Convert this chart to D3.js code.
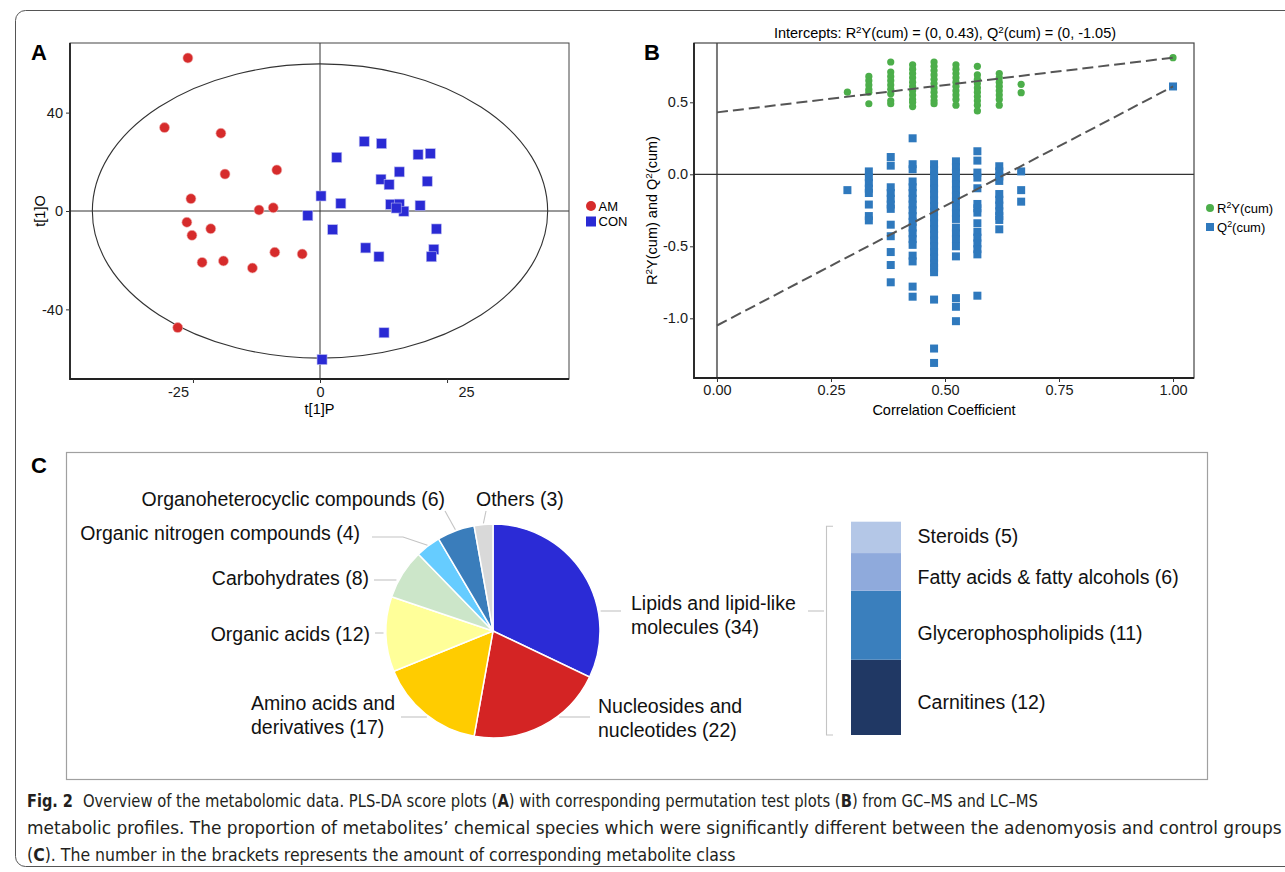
<!DOCTYPE html>
<html><head><meta charset="utf-8">
<script src="https://cdn.jsdelivr.net/npm/d3@7"></script>
<style>
body{margin:0;background:#fff;}
svg{display:block;font-family:"Liberation Sans",Arial,Helvetica,sans-serif;}
</style></head><body>
<svg id="fig" width="1285" height="872"></svg>
<script>
// ================= DATA =================
// Panel A: PLS-DA scores
const groupNames = ["AM", "CON"];
const amT1P  = [-26.0,-30.6,-19.5,-18.7,-8.5,-25.4,-12.0,-9.2,-26.2,-25.2,-21.5,-8.9,-3.5,-23.2,-19.0,-13.3,-28.0];
const amT1O  = [62.2,33.9,31.6,15.0,16.7,5.0,0.4,1.3,-4.6,-9.9,-7.2,-16.8,-17.5,-20.9,-20.3,-23.2,-47.4];
const conT1P = [8.7,12.1,3.3,19.3,21.7,15.6,12.0,13.6,21.1,0.2,4.1,13.9,15.6,16.5,19.7,-2.4,2.5,22.9,9.0,11.6,22.4,21.9,12.6,0.4,15.0];
const conT1O = [28.3,27.4,21.8,22.9,23.3,15.9,12.9,10.7,12.1,6.1,3.1,2.7,2.8,-0.1,2.2,-1.9,-7.6,-7.3,-15.0,-18.6,-15.6,-18.6,-49.5,-60.4,1.2];
const ellipseRadii = [44.8, 59.8];
const scoreTicksX = [-25, 0, 25];
const scoreTicksY = [-40, 0, 40];

// Panel B: permutation test
const permCorr = [0.286,0.333,0.381,0.429,0.476,0.524,0.571,0.619,0.667];
const permR2 = [
  [0.57],
  [0.68,0.65,0.62,0.59,0.57,0.49],
  [0.78,0.71,0.68,0.65,0.62,0.59,0.56,0.51,0.49],
  [0.76,0.73,0.70,0.67,0.64,0.61,0.58,0.55,0.52,0.50,0.47],
  [0.78,0.75,0.72,0.69,0.66,0.63,0.60,0.57,0.54,0.51,0.49],
  [0.76,0.73,0.70,0.67,0.64,0.61,0.58,0.55,0.52,0.48],
  [0.75,0.69,0.66,0.63,0.60,0.57,0.54,0.51,0.48,0.44],
  [0.70,0.67,0.64,0.61,0.58,0.55,0.52,0.48],
  [0.625,0.567]
];
const permQ2 = [
  [-0.11],
  [0.02,-0.02,-0.06,-0.10,-0.13,-0.21,-0.29,-0.32],
  [0.12,0.06,-0.09,-0.13,-0.17,-0.21,-0.24,-0.35,-0.43,-0.54,-0.63,-0.75],
  [0.25,0.07,0.035,-0.05,-0.09,-0.13,-0.17,-0.21,-0.25,-0.29,-0.33,-0.37,-0.41,-0.45,-0.49,-0.565,-0.605,-0.78,-0.85],
  [0.07,0.03,-0.01,-0.06,-0.10,-0.14,-0.18,-0.22,-0.26,-0.30,-0.34,-0.38,-0.42,-0.46,-0.50,-0.54,-0.58,-0.62,-0.65,-0.68,-0.87,-1.21,-1.31],
  [0.09,0.05,0.01,-0.03,-0.07,-0.11,-0.15,-0.19,-0.23,-0.27,-0.31,-0.37,-0.41,-0.45,-0.50,-0.57,-0.86,-0.92,-1.02],
  [0.16,0.095,0.012,-0.023,-0.097,-0.206,-0.236,-0.266,-0.34,-0.40,-0.44,-0.48,-0.52,-0.556,-0.843],
  [0.056,0.02,-0.015,-0.046,-0.137,-0.177,-0.217,-0.257,-0.29,-0.317,-0.382],
  [0.02,-0.11,-0.19]
];
const origCorr = 1.0, origR2 = 0.81, origQ2 = 0.61;
const interceptR2 = 0.43, interceptQ2 = -1.05;
const corrTicks = [0, 0.25, 0.5, 0.75, 1];
const permYTicks = [-1, -0.5, 0, 0.5];

// Panel C: metabolite classes
const classNames = ["Lipids and lipid-like molecules","Nucleosides and nucleotides","Amino acids and derivatives","Organic acids","Carbohydrates","Organic nitrogen compounds","Organoheterocyclic compounds","Others"];
const classCounts = [34,22,17,12,8,4,6,3];
const classColors = ["#2b2bd6","#d42424","#ffcc00","#ffff99","#cce6c9","#66ccff","#3a7dbb","#d9d9d9"];
const lipidNames = ["Steroids","Fatty acids & fatty alcohols","Glycerophospholipids","Carnitines"];
const lipidCounts = [5,6,11,12];
const lipidColors = ["#b4c7e7","#8faadc","#3a7fbd","#203864"];

// ================= DRAW =================
const svg = d3.select("#fig");
svg.append("rect").attr("width",1285).attr("height",872).attr("fill","#fff");
// outer frame
svg.append("rect").attr("x",15.5).attr("y",10.5).attr("width",1300).attr("height",856)
  .attr("rx",10).attr("fill","none").attr("stroke","#555").attr("stroke-width",1);

const hyph = f => d => f(d).replace("\u2212","-");
function styleAxis(g, fs){
  g.select(".domain").remove();
  g.selectAll("text").attr("font-size",fs).attr("font-family","'Liberation Sans',Arial,sans-serif").attr("fill","#1a1a1a");
  g.selectAll("line").attr("stroke","#333");
}
function supText(sel, parts){
  let shifted = false;
  parts.forEach(([t,s])=>{
    const ts = sel.append("tspan").text(t);
    if(s){ ts.attr("dy",-5).attr("font-size","0.68em"); shifted = true; }
    else if(shifted){ ts.attr("dy",5); shifted = false; }
  });
}

// ---------- Panel A ----------
const A = {l:70, r:569, t:43, b:379};
const xA = d3.scaleLinear().domain([-49.2,49]).range([A.l,A.r]);
const yA = d3.scaleLinear().domain([-68.3,68.3]).range([A.b,A.t]);
const gA = svg.append("g");
gA.append("ellipse").attr("cx",xA(0)).attr("cy",yA(0))
  .attr("rx",xA(ellipseRadii[0])-xA(0)).attr("ry",yA(0)-yA(ellipseRadii[1]))
  .attr("fill","none").attr("stroke","#333").attr("stroke-width",1.1);
gA.append("line").attr("x1",xA(0)).attr("x2",xA(0)).attr("y1",A.t).attr("y2",A.b).attr("stroke","#333");
gA.append("line").attr("x1",A.l).attr("x2",A.r).attr("y1",yA(0)).attr("y2",yA(0)).attr("stroke","#333");
gA.append("rect").attr("x",A.l).attr("y",A.t).attr("width",A.r-A.l).attr("height",A.b-A.t)
  .attr("fill","none").attr("stroke","#444").attr("stroke-width",1);
gA.append("path").attr("d",`M${A.l},${A.t}V${A.b}H${A.r}`).attr("fill","none").attr("stroke","#222").attr("stroke-width",1.8);
const axAx = gA.append("g").attr("transform",`translate(0,${A.b})`)
  .call(d3.axisBottom(xA).tickValues(scoreTicksX).tickSize(4).tickPadding(4).tickFormat(hyph(d3.format("d"))));
styleAxis(axAx,14.5);
axAx.selectAll(".tick text").attr("dx",d=> d<0 ? -15 : d>0 ? 19 : 0);
const axAy = gA.append("g").attr("transform",`translate(${A.l},0)`)
  .call(d3.axisLeft(yA).tickValues(scoreTicksY).tickSize(4).tickPadding(3).tickFormat(hyph(d3.format("d"))));
styleAxis(axAy,14.5);
gA.append("text").attr("x",(A.l+A.r)/2).attr("y",414).attr("text-anchor","middle").attr("font-size",14.5).text("t[1]P");
gA.append("text").attr("transform",`translate(45,${(A.t+A.b)/2}) rotate(-90)`).attr("text-anchor","middle").attr("font-size",14.5).text("t[1]O");
const amPts = amT1P.map((v,i)=>({x:v,y:amT1O[i]}));
const conPts = conT1P.map((v,i)=>({x:v,y:conT1O[i]}));
gA.selectAll(".am").data(amPts).join("circle").attr("cx",d=>xA(d.x)).attr("cy",d=>yA(d.y)).attr("r",5)
  .attr("fill","#d62b2b").attr("stroke","#f2b4b4").attr("stroke-width",0.6);
gA.selectAll(".con").data(conPts).join("rect").attr("x",d=>xA(d.x)-5).attr("y",d=>yA(d.y)-5)
  .attr("width",10).attr("height",10).attr("fill","#2a2ad4").attr("stroke","#b9b9f0").attr("stroke-width",0.6);
// legend A
const legA = gA.append("g").attr("font-size",13);
legA.append("circle").attr("cx",591).attr("cy",206).attr("r",5).attr("fill","#d62b2b");
legA.append("text").attr("x",598.5).attr("y",210.5).text(groupNames[0]);
legA.append("rect").attr("x",586).attr("y",216.5).attr("width",10).attr("height",10).attr("fill","#2a2ad4");
legA.append("text").attr("x",598.5).attr("y",226).text(groupNames[1]);
svg.append("text").attr("x",31).attr("y",60).attr("font-size",22).attr("font-weight","bold").text("A");

// ---------- Panel B ----------
const B = {l:694, r:1194, t:43, b:378};
const xB = d3.scaleLinear().domain([-0.0504,1.046]).range([B.l,B.r]);
const yB = d3.scaleLinear().domain([-1.4146,0.9118]).range([B.b,B.t]);
const gB = svg.append("g");
gB.append("line").attr("x1",xB(0)).attr("x2",xB(0)).attr("y1",B.t).attr("y2",B.b).attr("stroke","#7a7a7a").attr("stroke-width",2);
gB.append("line").attr("x1",B.l).attr("x2",B.r).attr("y1",yB(0)).attr("y2",yB(0)).attr("stroke","#333").attr("stroke-width",1.2);
gB.append("rect").attr("x",B.l).attr("y",B.t).attr("width",B.r-B.l).attr("height",B.b-B.t)
  .attr("fill","none").attr("stroke","#444").attr("stroke-width",1.2);
gB.append("path").attr("d",`M${B.l},${B.t}V${B.b}H${B.r}`).attr("fill","none").attr("stroke","#222").attr("stroke-width",1.8);
const axBx = gB.append("g").attr("transform",`translate(0,${B.b})`)
  .call(d3.axisBottom(xB).tickValues(corrTicks).tickSize(4).tickPadding(3).tickFormat(d3.format(".2f")));
styleAxis(axBx,14.5);
const axBy = gB.append("g").attr("transform",`translate(${B.l},0)`)
  .call(d3.axisLeft(yB).tickValues(permYTicks).tickSize(4).tickPadding(2).tickFormat(hyph(d3.format(".1f"))));
styleAxis(axBy,14.5);
const q2Pts = [], r2Pts = [];
permQ2.forEach((col,i)=>col.forEach(v=>q2Pts.push({x:permCorr[i],y:v})));
permR2.forEach((col,i)=>col.forEach(v=>r2Pts.push({x:permCorr[i],y:v})));
q2Pts.push({x:origCorr,y:origQ2});
r2Pts.push({x:origCorr,y:origR2});
gB.selectAll(".q2").data(q2Pts).join("rect").attr("x",d=>xB(d.x)-4).attr("y",d=>yB(d.y)-4)
  .attr("width",8).attr("height",8).attr("fill","#2f79bd");
gB.selectAll(".r2").data(r2Pts).join("circle").attr("cx",d=>xB(d.x)).attr("cy",d=>yB(d.y)).attr("r",3.6)
  .attr("fill","#4cae4a");
gB.append("line").attr("x1",xB(0)).attr("y1",yB(interceptR2)).attr("x2",xB(origCorr)).attr("y2",yB(origR2))
  .attr("stroke","#555").attr("stroke-width",2).attr("stroke-dasharray","11,5");
gB.append("line").attr("x1",xB(0)).attr("y1",yB(interceptQ2)).attr("x2",xB(origCorr)).attr("y2",yB(origQ2))
  .attr("stroke","#555").attr("stroke-width",2).attr("stroke-dasharray","11,5");
const titleB = gB.append("text").attr("x",(B.l+B.r)/2+1).attr("y",38).attr("text-anchor","middle").attr("font-size",14.5);
supText(titleB,[["Intercepts: R",0],["2",1],[`Y(cum) = (0, ${interceptR2}), Q`,0],["2",1],[`(cum) = (0, ${interceptQ2})`,0]]);
gB.append("text").attr("x",(B.l+B.r)/2).attr("y",415).attr("text-anchor","middle").attr("font-size",14.5).text("Correlation Coefficient");
const ylabB = gB.append("text").attr("transform",`translate(657,${(B.t+B.b)/2}) rotate(-90)`).attr("text-anchor","middle").attr("font-size",14.5);
supText(ylabB,[["R",0],["2",1],["Y(cum) and Q",0],["2",1],["(cum)",0]]);
const legB = gB.append("g").attr("font-size",13);
legB.append("circle").attr("cx",1210).attr("cy",208).attr("r",4).attr("fill","#4cae4a");
const lb1 = legB.append("text").attr("x",1217).attr("y",212.5); supText(lb1,[["R",0],["2",1],["Y(cum)",0]]);
legB.append("rect").attr("x",1206).attr("y",223).attr("width",8).attr("height",8).attr("fill","#2f79bd");
const lb2 = legB.append("text").attr("x",1217).attr("y",231.5); supText(lb2,[["Q",0],["2",1],["(cum)",0]]);
svg.append("text").attr("x",644).attr("y",60).attr("font-size",22).attr("font-weight","bold").text("B");

// ---------- Panel C ----------
svg.append("rect").attr("x",66.5).attr("y",452.5).attr("width",1141).attr("height",327)
  .attr("fill","none").attr("stroke","#a0a0a0").attr("stroke-width",1.2);
svg.append("text").attr("x",31).attr("y",473).attr("font-size",22).attr("font-weight","bold").text("C");
const pieC = {cx:493, cy:631, r:107};
const gC = svg.append("g").attr("font-size",19.5).attr("fill","#111");
const pieData = d3.pie().sort(null).value(d=>d)(classCounts);
const arcC = d3.arc().innerRadius(0).outerRadius(pieC.r);
gC.append("g").attr("transform",`translate(${pieC.cx},${pieC.cy})`)
  .selectAll("path").data(pieData).join("path").attr("d",arcC)
  .attr("fill",(d,i)=>classColors[i]).attr("stroke","#fff").attr("stroke-width",1.5);

const pieLabelLayout = [
  {x:631, y:610, anchor:"start", wrap:"Lipids and lipid-like", leader:"h", ly:611, lx:621},
  {x:598, y:713, anchor:"start", wrap:"Nucleosides and", leader:"h", ly:717, lx:590},
  {x:251, y:710, anchor:"start", wrap:"Amino acids and", leader:"h", ly:717, lx:401},
  {x:370, y:641, anchor:"end", leader:"h", ly:633, lx:375},
  {x:369, y:585, anchor:"end", leader:"h", ly:580, lx:374},
  {x:360, y:540, anchor:"end", leader:"elbow", ly:537, lx:372, ex:403},
  {x:445, y:506, anchor:"end", leader:"radial", ly:511, lx:445},
  {x:476, y:506, anchor:"start", leader:"radial", ly:511, lx:486}
];
const leaderColor = "#c4c4c4";
pieLabelLayout.forEach((L,i)=>{
  const full = `${classNames[i]} (${classCounts[i]})`;
  const t = gC.append("text").attr("x",L.x).attr("y",L.y).attr("text-anchor",L.anchor);
  if(L.wrap){
    t.append("tspan").attr("x",L.x).text(L.wrap);
    t.append("tspan").attr("x",L.x).attr("dy",24).text(full.slice(L.wrap.length+1));
  } else t.text(full);
  const d = pieData[i];
  const mid = (d.startAngle+d.endAngle)/2;
  let pts;
  if(L.leader==="h"){
    const dy = L.ly - pieC.cy;
    const side = L.lx > pieC.cx ? 1 : -1;
    const ex = pieC.cx + side*(Math.sqrt(pieC.r*pieC.r - dy*dy) + 2.5);
    pts = [[L.lx,L.ly],[ex,L.ly]];
  } else {
    const px = pieC.cx + Math.sin(mid)*(pieC.r+1), py = pieC.cy - Math.cos(mid)*(pieC.r+1);
    pts = L.leader==="elbow" ? [[L.lx,L.ly],[L.ex,L.ly],[px,py]] : [[L.lx,L.ly],[px,py]];
  }
  gC.append("path").attr("d",d3.line()(pts)).attr("fill","none").attr("stroke",leaderColor).attr("stroke-width",1.1);
});
// lipid sub-class stacked bar
const barY = d3.scaleLinear().domain([0,d3.sum(lipidCounts)]).range([735,521.7]);
const barX = {l:851, w:50};
let acc = 0;
const segs = [];
for(let i=lipidCounts.length-1;i>=0;i--){ segs.push({i,y0:acc,y1:acc+lipidCounts[i]}); acc+=lipidCounts[i]; }
gC.selectAll(".seg").data(segs).join("rect").attr("x",barX.l).attr("width",barX.w)
  .attr("y",d=>barY(d.y1)).attr("height",d=>barY(d.y0)-barY(d.y1)).attr("fill",d=>lipidColors[d.i]);
const lipidLabelY = [543, 584, 640, 709];
lipidNames.forEach((n,i)=>{
  gC.append("text").attr("x",917.5).attr("y",lipidLabelY[i]).text(`${n} (${lipidCounts[i]})`);
});
// bracket + connector
gC.append("path").attr("d",`M833,${barY(d3.sum(lipidCounts))+4.5}H826.5V${barY(0)}H833`).attr("fill","none").attr("stroke",leaderColor).attr("stroke-width",1.1);
gC.append("line").attr("x1",808).attr("x2",824).attr("y1",611).attr("y2",611).attr("stroke",leaderColor).attr("stroke-width",1.1);

// ---------- Caption ----------
const capFont = "'DejaVu Sans Condensed','Liberation Sans Narrow','Roboto Condensed','Open Sans',sans-serif";
const capG = svg.append("g").attr("font-family",capFont).attr("font-size",17).attr("fill","#231f20");
function capLine(x0,y,target,parts){
  const g = capG.append("g");
  let x = 0;
  parts.forEach(([s,b])=>{
    const t = g.append("text").attr("x",x).attr("y",0).text(s);
    if(b) t.attr("font-weight","bold");
    x += t.node().getComputedTextLength();
  });
  g.attr("transform",`translate(${x0},${y}) scale(${target/x},1)`);
}
capLine(27,807,46,[["Fig. 2",1]]);
capLine(83,807,955,[["Overview of the metabolomic data. PLS-DA score plots (",0],["A",1],[") with corresponding permutation test plots (",0],["B",1],[") from GC–MS and LC–MS",0]]);
capLine(27,834,1255,[["metabolic profiles. The proportion of metabolites’ chemical species which were significantly different between the adenomyosis and control groups",0]]);
capLine(27,861,709,[["(",0],["C",1],["). The number in the brackets represents the amount of corresponding metabolite class",0]]);
</script>
</body></html>
